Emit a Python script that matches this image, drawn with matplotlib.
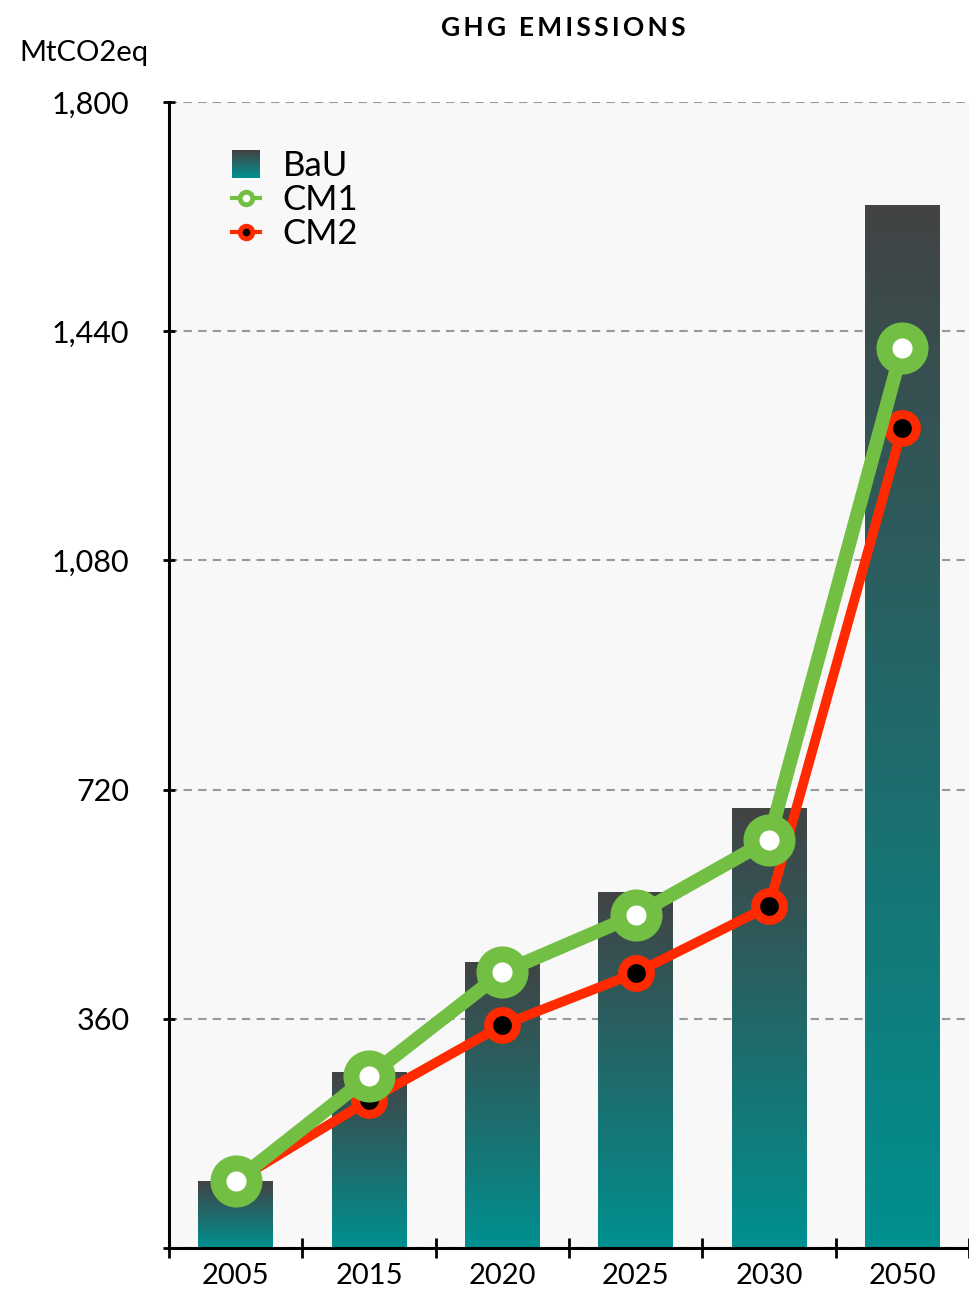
import matplotlib.pyplot as plt
import numpy as np
from matplotlib.colors import LinearSegmentedColormap
from matplotlib.lines import Line2D
from matplotlib.patches import Rectangle
from matplotlib.legend_handler import HandlerBase

plt.rcParams['font.family'] = ['Lato', 'DejaVu Sans']

years = ['2005', '2015', '2020', '2025', '2030', '2050']
bau = [105, 276, 449, 558, 691, 1638]
cm1 = [105, 270, 433, 523, 641, 1414]
cm2 = [105, 232, 350, 432, 537, 1288]
yticks = [0, 360, 720, 1080, 1440, 1800]
ylabels = ['', '360', '720', '1,080', '1,440', '1,800']

top_col = '#424344'
bot_col = '#009090'
grad = LinearSegmentedColormap.from_list('g', [bot_col, top_col])


class GradHandler(HandlerBase):
    def create_artists(self, legend, orig, xd, yd, w, h, fontsize, trans):
        n = 20
        side = h * 1.15
        x0 = xd + (w - side) / 2
        y0 = yd + (h - side) / 2
        arts = []
        for i in range(n):
            r = Rectangle((x0, y0 + side * i / n), side, side / n + 0.3,
                          facecolor=grad(i / (n - 1)), edgecolor='none',
                          transform=trans)
            arts.append(r)
        return arts


fig = plt.figure(figsize=(9.69, 12.91), dpi=100)
ax = fig.add_axes([0.1744, 0.0333, 0.8256, 0.8877])
ax.set_facecolor('#f8f8f8')

x = np.arange(len(years))
bars = ax.bar(x, bau, width=0.56, color='none', zorder=2)
gimg = np.linspace(1, 0, 256).reshape(-1, 1)
for b in bars:
    bx, by = b.get_x(), b.get_y()
    ax.imshow(gimg, cmap=grad, extent=[bx, bx + b.get_width(), by, by + b.get_height()],
              aspect='auto', zorder=2, vmin=0, vmax=1)

ax.plot(x, cm2, color='#ff2a00', lw=7, marker='o', ms=20, mew=6.5,
        mfc='black', mec='#ff2a00', zorder=3, solid_capstyle='round')
ax.plot(x, cm1, color='#72bf44', lw=10, marker='o', ms=26, mew=11.5,
        mfc='white', mec='#72bf44', zorder=4, solid_capstyle='round')

ax.set_xlim(-0.5, len(years) - 0.5)
ax.set_ylim(0, 1800)
ax.set_yticks(yticks)
ax.set_yticklabels(ylabels)
ax.set_xticks(x)
ax.set_xticklabels(years)
ax.set_xticks(np.arange(-0.5, len(years)), minor=True)
ax.tick_params(axis='x', which='major', length=0, labelsize=21, pad=11)
ax.tick_params(axis='x', which='minor', direction='inout', length=14, width=2)
ax.tick_params(axis='y', direction='inout', length=9, width=2, labelsize=22, pad=24)
ax.yaxis.grid(True, color='#999999', ls=(0, (4, 3)), lw=1.5)
ax.set_axisbelow(True)
for s in ['top', 'right']:
    ax.spines[s].set_visible(False)
for s in ['left', 'bottom']:
    ax.spines[s].set_linewidth(2.2)

title = '\u2009'.join('GHG EMISSIONS')
fig.text(0.581, 0.978, title, ha='center', va='center',
         fontsize=19, fontweight='bold')
fig.text(0.02, 0.959, 'MtCO2eq', ha='left', va='center', fontsize=21)

handles = [
    Rectangle((0, 0), 1, 1),
    Line2D([0], [0], color='#72bf44', lw=3, marker='o', ms=9, mew=3.5, mfc='white', mec='#72bf44'),
    Line2D([0], [0], color='#ff2a00', lw=3, marker='o', ms=9, mew=3.5, mfc='black', mec='#ff2a00'),
]
ax.legend(handles, ['BaU', 'CM1', 'CM2'], loc='upper left', bbox_to_anchor=(0.04, 0.985),
          frameon=False, fontsize=25, handlelength=0.8, handletextpad=0.65,
          labelspacing=0.05, handler_map={Rectangle: GradHandler()})

fig.savefig('out.png', dpi=100)
